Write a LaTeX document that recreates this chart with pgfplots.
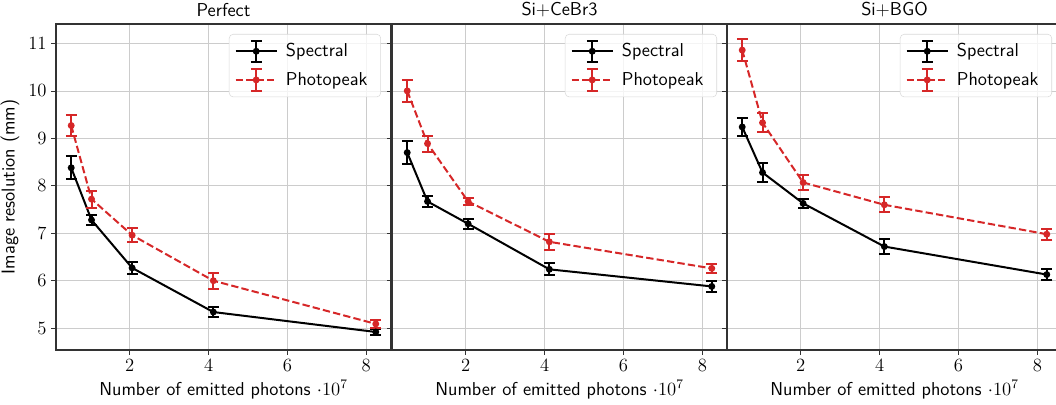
\RequirePackage{fix-cm}
\documentclass[border=0pt]{standalone}
\usepackage{fontspec}
\usepackage{pgfplots}
\pgfplotsset{compat=1.18}
\definecolor{tabred}{HTML}{D62728}
\definecolor{spine}{HTML}{333333}
\newcommand{\fs}{\fontsize{14}{17}\selectfont}

\pgfplotsset{
  panel/.style={
    width=251.25pt, height=244.5pt, scale only axis,
    xmin=0.129, xmax=8.626, ymin=4.54, ymax=11.41,
    xtick={2,4,6,8}, ytick={5,6,7,8,9,10,11},
    grid=major, grid style={black!20, line width=0.6pt},
    tick align=outside, tick pos=left, major tick length=3.5pt,
    tick style={spine, line width=0.6pt},
    axis line style={spine, line width=0.8pt},
    ticklabel style={font=\fs},
    xlabel={Number of emitted photons $\cdot 10^7$},
    xlabel style={font=\fs\sffamily, yshift=0pt},
    ylabel style={font=\fs\sffamily},
    title style={font=\fs\sffamily, yshift=-4pt},
    legend style={at={(1,1)}, anchor=north east, xshift=-7.5pt, yshift=-7.5pt,
      draw=black!15, rounded corners=3pt, fill=white, fill opacity=0.8, text opacity=1,
      font=\fs\sffamily, inner xsep=4pt, inner ysep=4pt,
      row sep=4pt, nodes={inner xsep=6pt}},
    legend cell align=left,
  },
  spec/.style={black, line width=1.5pt, mark=*, mark size=1.8pt, mark options={solid},
    error bars/y dir=both, error bars/y explicit,
    error bars/error bar style={line width=1.5pt, solid},
    error bars/error mark options={rotate=90, line width=1.5pt, mark size=4.1pt, solid}},
  phot/.style={tabred, line width=1.5pt, dash pattern=on 5.5pt off 2.4pt, mark=*, mark size=1.8pt, mark options={solid},
    error bars/y dir=both, error bars/y explicit,
    error bars/error bar style={line width=1.5pt, solid},
    error bars/error mark options={rotate=90, line width=1.5pt, mark size=4.1pt, solid}},
  ebimage/.style={legend image code/.code={
      \draw[##1] (0pt,0pt) -- (31pt,0pt);
      \draw[##1,solid] (15.5pt,-8pt) -- (15.5pt,8pt);
      \draw[##1,solid] (11.5pt,8pt) -- (19.5pt,8pt);
      \draw[##1,solid] (11.5pt,-8pt) -- (19.5pt,-8pt);
      \fill[##1,solid] (15.5pt,0pt) circle (1.8pt);
  }},
}

\begin{document}
\begin{tikzpicture}
\path[use as bounding box] (0,0) rectangle (792pt,303pt);

% Panel 1
\begin{axis}[panel, at={(42pt,40.5pt)}, anchor=south west,
  title={Perfect}, ylabel={Image resolution (mm)}]
\addlegendimage{black, line width=1.5pt, ebimage}
\addlegendentry{Spectral}
\addlegendimage{tabred, line width=1.5pt, dash pattern=on 5.5pt off 2.4pt, ebimage}
\addlegendentry{Photopeak}
\addplot+[forget plot, spec] coordinates {
  (0.515,8.38) +- (0,0.24)
  (1.03,7.28) +- (0,0.11)
  (2.06,6.27) +- (0,0.13)
  (4.12,5.34) +- (0,0.10)
  (8.24,4.92) +- (0,0.065)
};
\addplot+[forget plot, phot] coordinates {
  (0.515,9.27) +- (0,0.22)
  (1.03,7.72) +- (0,0.18)
  (2.06,6.96) +- (0,0.145)
  (4.12,6.00) +- (0,0.165)
  (8.24,5.09) +- (0,0.08)
};
\end{axis}

% Panel 2
\begin{axis}[panel, at={(294pt,40.5pt)}, anchor=south west,
  title={Si+CeBr3}, yticklabels={}]
\addlegendimage{black, line width=1.5pt, ebimage}
\addlegendentry{Spectral}
\addlegendimage{tabred, line width=1.5pt, dash pattern=on 5.5pt off 2.4pt, ebimage}
\addlegendentry{Photopeak}
\addplot+[forget plot, spec] coordinates {
  (0.515,8.70) +- (0,0.24)
  (1.03,7.67) +- (0,0.11)
  (2.06,7.20) +- (0,0.10)
  (4.12,6.24) +- (0,0.125)
  (8.24,5.88) +- (0,0.11)
};
\addplot+[forget plot, phot] coordinates {
  (0.515,10.00) +- (0,0.24)
  (1.03,8.89) +- (0,0.17)
  (2.06,7.67) +- (0,0.065)
  (4.12,6.82) +- (0,0.17)
  (8.24,6.26) +- (0,0.10)
};
\end{axis}

% Panel 3
\begin{axis}[panel, at={(545.25pt,40.5pt)}, anchor=south west,
  title={Si+BGO}, yticklabels={}]
\addlegendimage{black, line width=1.5pt, ebimage}
\addlegendentry{Spectral}
\addlegendimage{tabred, line width=1.5pt, dash pattern=on 5.5pt off 2.4pt, ebimage}
\addlegendentry{Photopeak}
\addplot+[forget plot, spec] coordinates {
  (0.515,9.24) +- (0,0.19)
  (1.03,8.28) +- (0,0.21)
  (2.06,7.63) +- (0,0.10)
  (4.12,6.72) +- (0,0.16)
  (8.24,6.13) +- (0,0.12)
};
\addplot+[forget plot, phot] coordinates {
  (0.515,10.86) +- (0,0.23)
  (1.03,9.33) +- (0,0.20)
  (2.06,8.07) +- (0,0.16)
  (4.12,7.60) +- (0,0.16)
  (8.24,6.98) +- (0,0.115)
};
\end{axis}
\end{tikzpicture}
\end{document}
